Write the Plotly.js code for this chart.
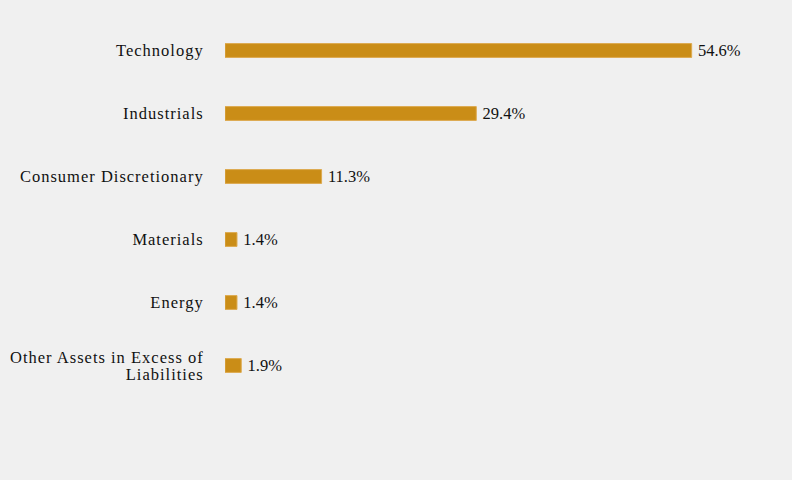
<!DOCTYPE html>
<html>
<head>
<meta charset="utf-8">
<script src="https://cdn.plot.ly/plotly-3.0.1.min.js"></script>
<style>
html,body{margin:0;padding:0;background:#f0f0f0;}
#chart{width:792px;height:480px;}
#chart text{font-family:'Liberation Serif', 'Times New Roman', serif !important;}
#chart .ytick text{letter-spacing:1.0px;}
#chart .textpoint text{letter-spacing:1.7px;}
</style>
</head>
<body>
<div id="chart"></div>
<script>
const categories = ["Technology", "Industrials", "Consumer Discretionary", "Materials", "Energy", "Other Assets in Excess of<br>Liabilities"];
const values = [54.6, 29.4, 11.3, 1.4, 1.4, 1.9];
const labels = values.map(v => "\u2009" + v.toFixed(1) + "%");

const serif = "Liberation Serif";
const FS = 16.5;
const trace = {
  type: "bar",
  orientation: "h",
  y: categories,
  x: values,
  text: labels,
  textposition: "outside",
  constraintext: "none",
  cliponaxis: false,
  textfont: {family: serif, size: FS, color: "#111"},
  marker: {color: "#CA8D17", line: {color: "#DDAA50", width: 1}},
  hoverinfo: "none"
};

const layout = {
  width: 792, height: 480,
  paper_bgcolor: "#f0f0f0",
  plot_bgcolor: "#f0f0f0",
  margin: {l: 225, r: 20, t: 19, b: 83},
  bargap: 0.78,
  showlegend: false,
  font: {family: serif, size: FS, color: "#111"},
  xaxis: {range: [0, 64], visible: false, fixedrange: true},
  yaxis: {autorange: "reversed", showgrid: false, zeroline: false, showline: false,
          ticks: "outside", ticklen: 17, tickcolor: "rgba(0,0,0,0)",
          tickfont: {family: serif, size: FS, color: "#111"}}
};

Plotly.newPlot("chart", [trace], layout, {displayModeBar: false, staticPlot: true}).then(function(gd){
  gd.querySelectorAll(".ytick text").forEach(function(t){
    const lines = t.querySelectorAll("tspan.line");
    if (lines.length > 1) {
      const newLH = 1.0, oldLH = 1.3;
      lines.forEach(function(ts, i){ if (i > 0) ts.setAttribute("dy", newLH + "em"); });
      const shift = (oldLH - newLH) * FS * (lines.length - 1) / 2;
      const cur = t.getAttribute("transform") || "";
      t.setAttribute("transform", cur + " translate(0," + shift + ")");
    }
  });
});
</script>
</body>
</html>
